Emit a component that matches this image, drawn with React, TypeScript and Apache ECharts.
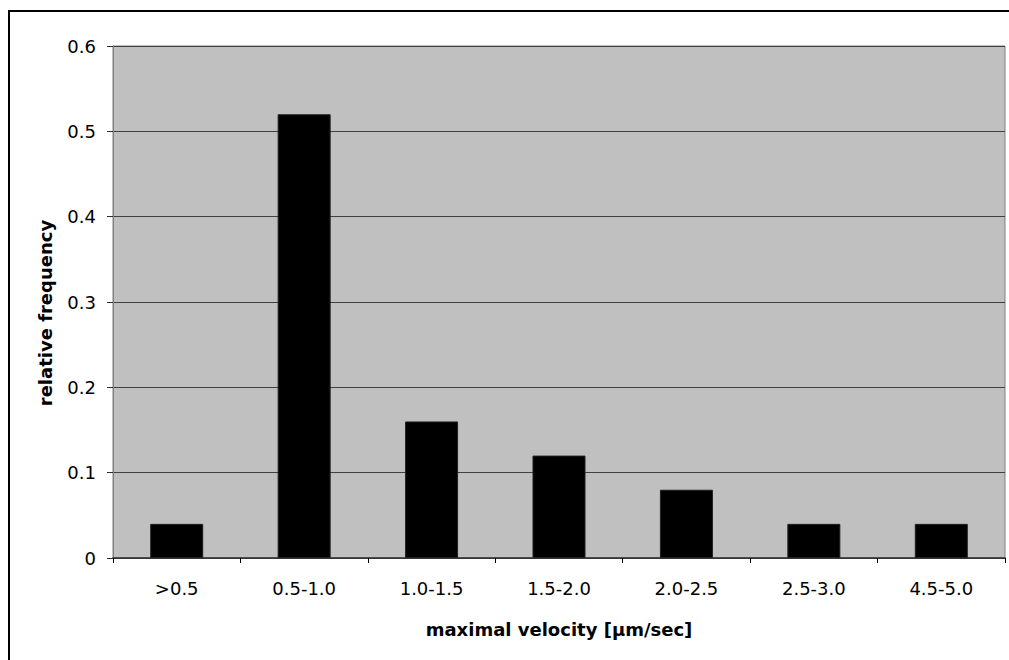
import React, { useEffect, useRef } from "react";
import * as echarts from "echarts";

const categories = [">0.5", "0.5-1.0", "1.0-1.5", "1.5-2.0", "2.0-2.5", "2.5-3.0", "4.5-5.0"];
const frequencies = [0.04, 0.52, 0.16, 0.12, 0.08, 0.04, 0.04];
const xTitle = "maximal velocity [µm/sec]";
const yTitle = "relative frequency";

export default function App() {
  const ref = useRef<HTMLDivElement>(null);
  useEffect(() => {
    if (!ref.current) return;
    const chart = echarts.init(ref.current, null, { renderer: "svg" });
    const font = "DejaVu Sans, Verdana, sans-serif";
    chart.setOption({
      animation: false,
      backgroundColor: "#ffffff",
      graphic: [
        {
          type: "polyline",
          shape: { points: [[9, 800], [9, 11], [1200, 11]] },
          style: { fill: "none", stroke: "#000", lineWidth: 2 },
          z: 10,
        },
        {
          type: "text",
          x: 45,
          y: 313,
          rotation: Math.PI / 2,
          style: {
            text: yTitle,
            fontFamily: font,
            fontSize: 18,
            fontWeight: "bold",
            fill: "#000",
            align: "center",
            verticalAlign: "middle",
          },
        },
      ],
      grid: {
        left: 113,
        top: 46,
        right: 4,
        bottom: 102,
        show: true,
        backgroundColor: "#c0c0c0",
        borderColor: "#808080",
        borderWidth: 1,
      },
      xAxis: {
        type: "category",
        data: categories,
        name: xTitle,
        nameLocation: "middle",
        nameGap: 62,
        nameTextStyle: { fontFamily: font, fontSize: 18, fontWeight: "bold", color: "#000" },
        axisLine: { lineStyle: { color: "#303030", width: 1.5 } },
        axisTick: { show: true, length: 5, alignWithLabel: false, lineStyle: { color: "#000" } },
        axisLabel: { fontFamily: font, fontSize: 18, color: "#000", margin: 21 },
        splitLine: { show: false },
      },
      yAxis: {
        type: "value",
        min: 0,
        max: 0.6,
        interval: 0.1,
        axisLine: { show: true, lineStyle: { color: "#808080", width: 1 } },
        axisTick: { show: true, length: 6, lineStyle: { color: "#303030" } },
        axisLabel: { fontFamily: font, fontSize: 18, color: "#000", margin: 17 },
        splitLine: { show: true, lineStyle: { color: "#404040", width: 1 } },
      },
      series: [
        {
          type: "bar",
          data: frequencies,
          barWidth: 53,
          itemStyle: { color: "#000", borderColor: "#202020", borderWidth: 1 },
        },
      ],
    });
    return () => chart.dispose();
  }, []);
  return (
    <div
      ref={ref}
      style={{ position: "fixed", left: 0, top: 0, width: 1009, height: 660 }}
    />
  );
}
